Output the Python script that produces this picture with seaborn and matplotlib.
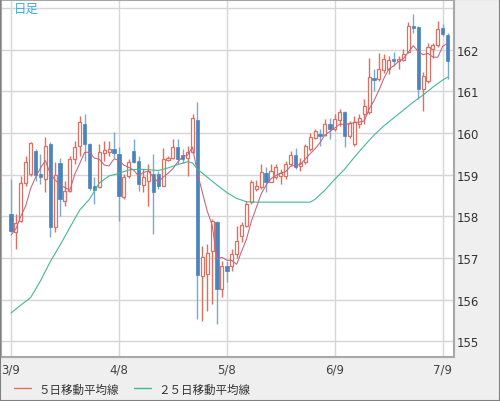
## Daily candles with 5 / 25 day moving averages
import numpy as np
import pandas as pd
import matplotlib
matplotlib.use("Agg")
import matplotlib.pyplot as plt
from matplotlib.lines import Line2D
from matplotlib.patches import Rectangle
import seaborn as sns

## Candle values (one per trading day)
opens = [158.05, 157.63, 157.89, 158.79, 159.01, 159.57, 159.01, 158.89, 159.73, 157.74,
         159.28, 158.37, 158.61, 159.37, 159.69, 160.21, 159.73, 158.72, 158.70, 159.53,
         159.54, 159.61, 159.49, 158.46, 158.96, 159.57, 159.33, 158.75, 158.85, 159.01,
         159.01, 158.72, 159.36, 159.39, 159.66, 159.47, 159.39, 159.55, 160.32, 156.57,
         156.62, 157.17, 157.86, 156.26, 156.81, 156.81, 157.09, 157.53, 157.77, 158.34,
         158.65, 158.70, 159.05, 158.83, 158.94, 158.97, 158.97, 159.25, 159.47, 159.21,
         159.30, 159.61, 159.87, 159.97, 159.95, 160.21, 160.09, 160.30, 160.50, 159.92,
         159.73, 160.21, 160.45, 160.50, 161.33, 161.29, 161.52, 161.53, 161.77, 161.73,
         161.76, 161.95, 162.56, 162.54, 161.05, 161.25, 162.01, 162.11, 162.53, 162.35]
highs = [158.89, 158.06, 158.97, 159.45, 159.78, 159.61, 159.49, 159.90, 159.78, 159.30,
         159.39, 158.85, 159.45, 159.81, 160.41, 160.45, 159.75, 158.95, 159.73, 159.81,
         159.81, 160.02, 159.66, 159.01, 159.37, 159.85, 159.45, 159.13, 159.25, 159.49,
         159.09, 159.63, 159.45, 159.85, 159.85, 159.61, 159.69, 160.45, 160.74, 157.29,
         157.33, 157.93, 157.89, 156.93, 156.93, 157.21, 157.77, 157.86, 158.37, 158.86,
         158.86, 159.25, 159.18, 159.25, 159.25, 159.13, 159.33, 159.57, 159.63, 159.41,
         159.73, 160.01, 160.09, 160.09, 160.33, 160.37, 160.45, 160.57, 160.53, 160.29,
         160.41, 160.45, 160.81, 161.81, 161.53, 161.93, 161.89, 161.85, 161.94, 161.85,
         162.01, 162.67, 162.85, 162.57, 161.46, 162.17, 162.17, 162.69, 162.61, 162.41]
lows = [157.62, 157.21, 157.86, 158.72, 158.97, 158.85, 158.77, 158.58, 157.50, 157.62,
        158.01, 158.25, 158.58, 159.25, 159.45, 159.33, 158.62, 158.30, 158.68, 159.33,
        159.45, 159.40, 157.89, 158.41, 158.93, 159.29, 158.61, 158.58, 158.25, 157.57,
        158.65, 158.72, 159.33, 159.37, 159.25, 159.29, 158.97, 159.53, 155.53, 155.49,
        155.73, 155.89, 155.41, 156.06, 156.42, 156.68, 157.00, 157.38, 157.75, 158.30,
        158.61, 158.65, 158.58, 158.82, 158.90, 158.77, 158.90, 159.21, 159.13, 159.09,
        159.25, 159.57, 159.86, 159.69, 159.93, 159.85, 160.05, 160.17, 159.66, 159.89,
        159.69, 160.13, 160.21, 160.45, 161.01, 161.25, 161.45, 161.41, 161.61, 161.53,
        161.73, 161.93, 162.41, 160.81, 160.53, 161.21, 161.81, 162.06, 162.33, 161.29]
closes = [157.65, 157.85, 158.79, 159.30, 159.75, 158.99, 158.95, 159.69, 157.74, 158.99,
          158.41, 158.61, 159.37, 159.67, 160.27, 159.73, 158.67, 158.64, 159.54, 159.58,
          159.62, 159.51, 158.49, 158.94, 159.31, 159.31, 158.78, 158.94, 159.09, 158.58,
          158.72, 159.37, 159.40, 159.66, 159.37, 159.37, 159.55, 160.35, 156.58, 157.03,
          157.11, 157.88, 156.25, 156.81, 156.68, 157.09, 157.41, 157.80, 158.29, 158.82,
          158.72, 159.07, 158.82, 159.09, 159.18, 159.03, 159.25, 159.47, 159.18, 159.29,
          159.69, 159.90, 160.05, 159.92, 160.21, 160.09, 160.33, 160.50, 159.92, 160.24,
          160.27, 160.37, 160.64, 161.34, 161.26, 161.53, 161.77, 161.76, 161.73, 161.77,
          161.89, 162.56, 162.51, 161.05, 161.37, 162.06, 162.11, 162.49, 162.37, 161.73]

ma5_head = [157.55, 157.70, 158.00, 158.25]

## 25 day MA at these candle positions
ma25_pos = [0, 2, 4, 6, 8, 10, 12, 14, 16, 18, 20, 22, 24, 26, 28, 30, 32, 34, 36, 37,
            38, 40, 42, 44, 46, 48, 50, 54, 58, 61, 62, 64, 66, 68, 70, 72, 74, 76, 78, 80,
            82, 84, 86, 88, 89]
ma25_val = [155.68, 155.87, 156.05, 156.45, 156.91, 157.31, 157.73, 158.15, 158.41, 158.80,
            158.97, 159.03, 159.11, 159.13, 159.12, 159.10, 159.16, 159.24, 159.31, 159.28,
            159.13, 158.94, 158.75, 158.57, 158.43, 158.35, 158.34, 158.34, 158.34, 158.34,
            158.41, 158.63, 158.89, 159.13, 159.42, 159.69, 159.95, 160.17, 160.36, 160.55,
            160.74, 160.91, 161.10, 161.27, 161.34]

tick_pos = [0, 22, 44, 66, 88]
tick_labels = ["3/9", "4/8", "5/8", "6/9", "7/9"]
price_ticks = [155, 156, 157, 158, 159, 160, 161, 162, 163]

## Build frame
df = pd.DataFrame({"open": opens, "high": highs, "low": lows, "close": closes})
df["pos"] = np.arange(len(df))
df["up"] = df["close"] >= df["open"]
df["body_lo"] = df[["open", "close"]].min(axis=1)
df["body_h"] = (df["close"] - df["open"]).abs().clip(lower=0.025)
ma5 = df["close"].rolling(5).mean()
ma5.iloc[:4] = ma5_head
df["ma5"] = ma5
ma25 = pd.DataFrame({"pos": ma25_pos, "ma25": ma25_val})

red = "#dd7060"
blue = "#4a84bd"
blue_wick = "#7aa9d6"
ma5_col = "#c7627c"
ma25_col = "#45b88f"

sns.set_style("white")
plt.rcParams["font.family"] = ["DejaVu Sans", "Noto Sans CJK JP"]

fig, ax = plt.subplots(figsize=(5, 4.02), dpi=100)
fig.patch.set_facecolor("#efefef")
fig.subplots_adjust(left=0.002, right=0.908, bottom=0.109, top=0.9975)

up = df[df["up"]]
dn = df[~df["up"]]

## wicks then bodies
ax.vlines(up["pos"], up["low"], up["high"], color=red, lw=1, zorder=2)
ax.vlines(dn["pos"], dn["low"], dn["high"], color=blue_wick, lw=1, zorder=2)
ax.bar(up["pos"], up["body_h"], bottom=up["body_lo"], width=0.62,
       color="white", edgecolor=red, linewidth=0.9, zorder=3)
ax.bar(dn["pos"], dn["body_h"], bottom=dn["body_lo"], width=0.68,
       color=blue, edgecolor=blue, linewidth=0.5, zorder=3)

## moving averages
sns.lineplot(data=df, x="pos", y="ma5", color=ma5_col, lw=0.75, ax=ax,
             estimator=None, sort=False, zorder=4)
sns.lineplot(data=ma25, x="pos", y="ma25", color=ma25_col, lw=0.8, ax=ax,
             estimator=None, sort=False, zorder=4)

ax.set_xlim(-2.04, 90.3)
ax.set_ylim(154.62, 163.19)
ax.set_xticks(tick_pos)
ax.set_xticklabels(tick_labels)
ax.set_yticks(price_ticks)
ax.set_yticklabels([str(p) if p < 163 else "" for p in price_ticks])
ax.yaxis.tick_right()
ax.set_xlabel("")
ax.set_ylabel("")
ax.tick_params(axis="y", length=0, pad=2, labelsize=8.5, labelcolor="#333333")
ax.tick_params(axis="x", length=0, pad=4, labelsize=8.5, labelcolor="#444444")
ax.grid(True, color="#d6d6d6", lw=1)
ax.set_axisbelow(True)
for s in ax.spines.values():
    s.set_color("#a8a8a8")
    s.set_linewidth(1.5)

ax.text(0.029, 0.978, "日足", transform=ax.transAxes, ha="left", va="center",
        fontsize=9, color="#3aaee0", family=["Noto Sans CJK JP", "DejaVu Sans"])

handles = [Line2D([], [], color=red, lw=1), Line2D([], [], color=ma25_col, lw=1)]
fig.legend(handles, ["５日移動平均線", "２５日移動平均線"], loc="center left",
           bbox_to_anchor=(0.028, 0.03), ncol=2, frameon=False,
           prop={"family": "Noto Sans CJK JP", "size": 8.3}, labelcolor="#333333",
           handlelength=1.5, handletextpad=0.6, columnspacing=1.3,
           borderpad=0, borderaxespad=0)

fig.add_artist(Rectangle((0, 0), 1, 1, transform=fig.transFigure, fill=False,
                         edgecolor="#808080", lw=1.5))

fig.savefig("out.png", dpi=100, facecolor=fig.get_facecolor())
